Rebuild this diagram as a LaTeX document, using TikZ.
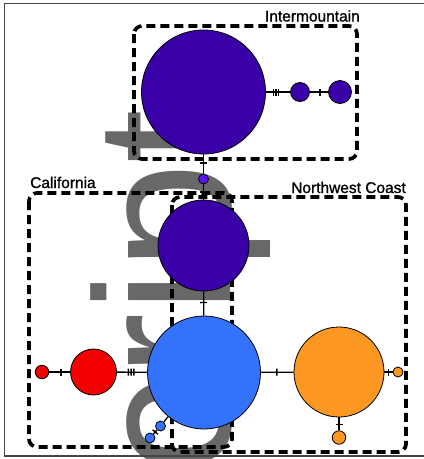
\documentclass[tikz,border=0pt]{standalone}
\usepackage{fontspec}
\setmainfont{Liberation Sans}
\newfontfamily\labelfont[FakeBold=1.2]{Liberation Sans}
\definecolor{wmgray}{RGB}{104,104,104}
\definecolor{dpurple}{RGB}{58,0,168}
\definecolor{lpurple}{RGB}{92,20,240}
\definecolor{hblue}{RGB}{53,114,252}
\definecolor{hred}{RGB}{242,0,0}
\definecolor{horange}{RGB}{252,152,34}
\definecolor{framegray}{RGB}{70,70,70}
\tikzset{
  hap/.style={circle, draw=black, line width=0.8pt, inner sep=0pt, minimum size=#1},
  link/.style={draw=black, line width=1.3pt},
  tickmark/.style={sloped, inner sep=0pt, minimum width=1.4pt, minimum height=7pt, fill=black, draw=none},
  region/.style={draw=black, line width=3.7pt, dash pattern=on 9pt off 5pt, rounded corners=8pt},
  regionlabel/.style={inner sep=0pt, font=\labelfont\fontsize{15.5}{16}\selectfont}
}
\begin{document}
\begin{tikzpicture}[x=1pt, y=-1pt]
\useasboundingbox (0,0) rectangle (424,459);
% watermark
\node[rotate=90, anchor=base east, inner sep=0pt, text=wmgray,
      font=\fontsize{193}{193}\selectfont] (wm) at (230,109.5) {Manuscript};
% frame
\draw[framegray, line width=1.2pt] (424,3.5) -- (4.5,3.5) -- (4.5,456) -- (424,456);
% regions
\draw[region] (134,26) rectangle (357,159);
\draw[region] (29,193) rectangle (232,447);
\draw[region] (172,197) rectangle (406,452);
\node[regionlabel, anchor=base east] (lint) at (360,21.5) {Intermountain};
\node[regionlabel, anchor=base west] (lcal) at (30,188) {California};
\node[regionlabel, anchor=base east] (lnw) at (406,193) {Northwest Coast};
% haplotypes
\node[hap=124pt, fill=dpurple] (P0) at (203.5,92) {};
\node[hap=19pt, fill=dpurple] (P1) at (300,92) {};
\node[hap=23pt, fill=dpurple] (P2) at (340,92) {};
\node[hap=10pt, fill=lpurple] (Pt) at (203.5,179) {};
\node[hap=91pt, fill=dpurple] (Pm) at (203.5,245.5) {};
\node[hap=113pt, fill=hblue] (B) at (204,372.5) {};
\node[hap=46pt, fill=hred] (R) at (93.5,372) {};
\node[hap=13.5pt, fill=hred] (Rs) at (42,372) {};
\node[hap=90pt, fill=horange] (O) at (339,372) {};
\node[hap=10pt, fill=horange] (Or) at (398,372) {};
\node[hap=13.5pt, fill=horange] (Ob) at (339,437.5) {};
\node[hap=10pt, fill=hblue] (Bs1) at (160.5,426) {};
\node[hap=10pt, fill=hblue] (Bs2) at (150,438) {};
% connectors
\draw[link] (P0) -- (P1) node[tickmark, pos=.31]{} node[tickmark, pos=.41]{} node[tickmark, pos=.51]{};
\draw[link] (P1) -- (P2) node[tickmark, pos=.55]{};
\draw[link] (P0) -- (Pt) node[tickmark, pos=.45]{};
\draw[link] (Pt) -- (Pm) node[tickmark, pos=.5]{};
\draw[link] (Pm) -- (B) node[tickmark, pos=.46]{};
\draw[link] (Rs) -- (R) node[tickmark, pos=.56]{};
\draw[link] (R) -- (B) node[tickmark, pos=.38]{} node[tickmark, pos=.47]{} node[tickmark, pos=.56]{};
\draw[link] (B) -- (O) node[tickmark, pos=.49]{};
\draw[link] (O) -- (Or) node[tickmark, pos=.5]{};
\draw[link] (O) -- (Ob) node[tickmark, pos=.57]{};
\draw[link] (B) -- (Bs1);
\draw[link] (Bs1) -- (Bs2) node[tickmark, pos=.5]{};
\end{tikzpicture}
\end{document}
